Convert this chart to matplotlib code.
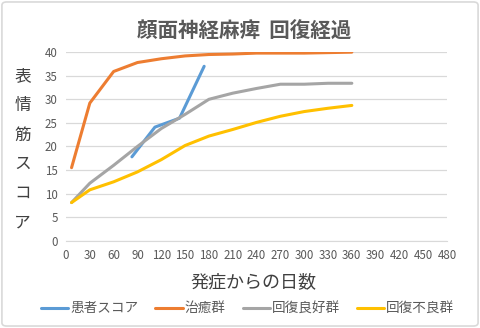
import matplotlib.pyplot as plt
from matplotlib.patches import FancyBboxPatch

plt.rcParams['font.family'] = ['Noto Sans CJK JP', 'DejaVu Sans']

# data
patient_days = [83, 112, 143, 174]
patient_score = [17.8, 24.1, 26.0, 37.0]

days = [7, 30, 60, 90, 120, 150, 180, 210, 240, 270, 300, 330, 360]
cured = [15.5, 29.2, 35.9, 37.8, 38.6, 39.2, 39.5, 39.6, 39.8, 39.8, 39.8, 39.9, 40.0]
good = [8.1, 12.2, 16.0, 20.0, 23.8, 26.8, 30.0, 31.3, 32.3, 33.2, 33.2, 33.4, 33.4]
poor = [8.1, 10.8, 12.5, 14.6, 17.2, 20.2, 22.2, 23.6, 25.1, 26.4, 27.4, 28.1, 28.7]

xticks = list(range(0, 481, 30))
yticks = list(range(0, 41, 5))

fig = plt.figure(figsize=(4.8, 3.28), dpi=100)
ax = fig.add_axes([0.1375, 0.266, 0.794, 0.575])

ax.plot(patient_days, patient_score, color='#5B9BD5', lw=2.2, label='患者スコア', solid_capstyle='round')
ax.plot(days, cured, color='#ED7D31', lw=2.2, label='治癒群', solid_capstyle='round')
ax.plot(days, good, color='#A5A5A5', lw=2.2, label='回復良好群', solid_capstyle='round')
ax.plot(days, poor, color='#FFC000', lw=2.2, label='回復不良群', solid_capstyle='round')

ax.set_xlim(0, 480)
ax.set_ylim(0, 40)
ax.set_xticks(xticks)
ax.set_yticks(yticks)
ax.tick_params(length=0, labelsize=8.3, labelcolor='#595959', pad=6)
ax.grid(axis='y', color='#D9D9D9', lw=0.9)
ax.set_axisbelow(True)
for s in ax.spines.values():
    s.set_visible(False)
ax.spines['bottom'].set_visible(True)
ax.spines['bottom'].set_color('#D9D9D9')

fig.text(0.509, 0.905, '顔面神経麻痺  回復経過', ha='center', va='center',
         fontsize=14.8, fontweight='bold', color='#595959')
fig.text(0.047, 0.544, '表\n情\n筋\nス\nコ\nア', ha='center', va='center',
         fontsize=12, color='#404040', linespacing=1.95)
fig.text(0.528, 0.14, '発症からの日数', ha='center', va='center',
         fontsize=13, color='#404040')

fig.legend(loc='center', bbox_to_anchor=(0.516, 0.06), ncol=4, frameon=False,
           fontsize=9.8, labelcolor='#595959', handlelength=2.0, handletextpad=0.15,
           columnspacing=1.25, borderpad=0)

fig.patches.append(FancyBboxPatch((0.004, 0.006), 0.992, 0.988,
                                  boxstyle='round,pad=0,rounding_size=0.01',
                                  transform=fig.transFigure, fill=False,
                                  ec='#D9D9D9', lw=1.2))

fig.savefig('out.png', dpi=100)
